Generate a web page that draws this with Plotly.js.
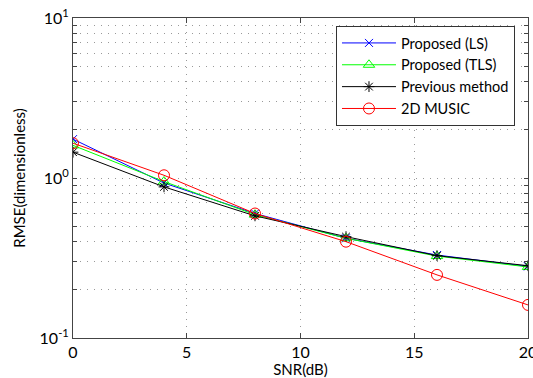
<!DOCTYPE html>
<html><head><meta charset="utf-8">
<script src="https://cdn.plot.ly/plotly-3.0.1.min.js"></script>
<style>html,body{margin:0;padding:0;background:#fff;overflow:hidden}#c{width:545px;height:378px}</style>
</head><body><div id="c"></div>
<script>
const snr = [0, 4, 8, 12, 16, 20];
const proposedLS = [1.75, 0.93, 0.60, 0.42, 0.33, 0.28];
const proposedTLS = [1.60, 0.95, 0.59, 0.42, 0.325, 0.278];
const previous = [1.45, 0.88, 0.58, 0.43, 0.327, 0.283];
const music2D = [1.65, 1.04, 0.60, 0.40, 0.248, 0.161];
const seriesNames = ['Proposed (LS)', 'Proposed (TLS)', 'Previous method', '2D MUSIC'];
const xTicks = [0, 5, 10, 15, 20];

const yTickVals = [];
const yTickText = [];
[0.1, 1].forEach(d => {
  for (let m = 1; m <= 9; m++) {
    yTickVals.push(m * d);
    yTickText.push(m === 1 ? '10<sup>' + Math.round(Math.log10(d)) + '</sup>' : '');
  }
});
yTickVals.push(10); yTickText.push('10<sup>1</sup>');

const mk = (name, y, color, symbol, size) => ({
  x: snr, y: y, name: name, type: 'scatter', mode: 'lines+markers',
  line: {color: color, width: 1},
  marker: {symbol: symbol, size: size, color: color, line: {color: color, width: 1}}
});

const data = [
  mk(seriesNames[0], proposedLS, '#0000ff', 'x-thin-open', 8),
  mk(seriesNames[1], proposedTLS, '#00ff00', 'triangle-up-open', 10),
  mk(seriesNames[2], previous, '#000000', 'asterisk-open', 9),
  mk(seriesNames[3], music2D, '#ff0000', 'circle-open', 11)
];

const layout = {
  width: 545, height: 378,
  margin: {l: 73, r: 17, t: 18, b: 40},
  paper_bgcolor: '#fff', plot_bgcolor: '#fff',
  font: {family: 'Lato, Liberation Sans, sans-serif', size: 15, color: '#000'},
  showlegend: true,
  legend: {x: 0.578, y: 0.975, xanchor: 'left', yanchor: 'top',
    bordercolor: '#333', borderwidth: 1, bgcolor: '#fff',
    font: {size: 14.5}, tracegroupgap: 0, itemwidth: 54},
  xaxis: {
    range: [0, 20], tickvals: xTicks, ticktext: xTicks.map(String),
    ticks: 'inside', ticklen: 5, tickcolor: '#444',
    showline: true, linecolor: '#444', linewidth: 1, mirror: 'ticks',
    showgrid: true, gridcolor: '#999', griddash: '1px,6px', gridwidth: 1,
    zeroline: false, tickfont: {size: 16},
    title: {text: 'SNR(dB)', font: {size: 15}, standoff: 2}
  },
  yaxis: {
    type: 'log', range: [-1, 1], tickvals: yTickVals, ticktext: yTickText,
    ticks: 'inside', ticklen: 4, tickcolor: '#444',
    showline: true, linecolor: '#444', linewidth: 1, mirror: 'ticks',
    showgrid: true, gridcolor: '#999', griddash: '1px,6px', gridwidth: 1,
    zeroline: false, tickfont: {size: 16},
    title: {text: 'RMSE(dimensionless)', font: {size: 15}, standoff: 10}
  }
};

Plotly.newPlot('c', data, layout, {displayModeBar: false, staticPlot: true});
</script>
</body></html>
